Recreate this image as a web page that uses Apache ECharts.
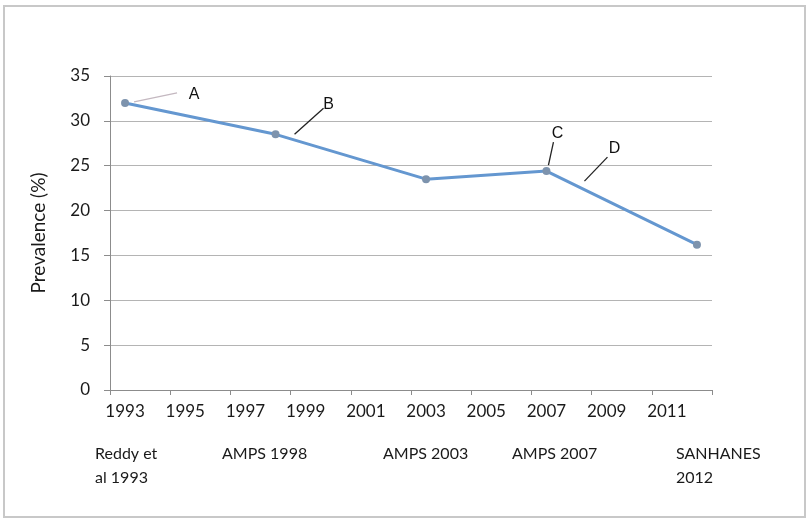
<!DOCTYPE html>
<html>
<head>
<meta charset="utf-8">
<script src="https://cdn.jsdelivr.net/npm/echarts@6/dist/echarts.min.js"></script>
<style>
  html, body { margin: 0; padding: 0; background: #fff; }
  #chart { width: 809px; height: 520px; }
</style>
</head>
<body>
<div id="chart"></div>
<script>
// Years on the category axis
const years = [];
for (let y = 1993; y <= 2012; y++) years.push(String(y));

// Survey prevalence values (%)
const surveyYears = ['1993', '1998', '2003', '2007', '2012'];
const prevalence = [32.0, 28.5, 23.5, 24.4, 16.2];

// Survey names shown beneath the axis
const surveyNames = ['Reddy et\nal 1993', 'AMPS 1998', 'AMPS 2003', 'AMPS 2007', 'SANHANES\n2012'];
const surveyNameLeft = [95, 222, 383, 512, 676];

// Callout letters
const calloutLetters = ['A', 'B', 'C', 'D'];

const yTicks = { min: 0, max: 35, interval: 5 };

const seriesData = years.map(y => {
  const i = surveyYears.indexOf(y);
  return i >= 0 ? prevalence[i] : null;
});

const chart = echarts.init(document.getElementById('chart'));

const font = 'Lato, "Open Sans", sans-serif';

chart.setOption({
  animation: false,
  backgroundColor: '#fff',
  grid: { left: 110, right: 97, top: 76, bottom: 130, containLabel: false },
  xAxis: {
    type: 'category',
    data: years,
    boundaryGap: true,
    axisLine: { lineStyle: { color: '#8c8c8c', width: 1 } },
    axisTick: { show: true, interval: idx => idx % 2 === 0, length: 5, lineStyle: { color: '#8c8c8c' } },
    axisLabel: { interval: 1, margin: 13, color: '#1a1a1a', fontSize: 17, fontFamily: font },
    splitLine: { show: false }
  },
  yAxis: {
    type: 'value',
    min: yTicks.min, max: yTicks.max, interval: yTicks.interval,
    name: 'Prevalence (%)',
    nameLocation: 'middle',
    nameGap: 62,
    nameRotate: 90,
    nameTextStyle: { color: '#1a1a1a', fontSize: 19, fontFamily: font },
    axisLine: { show: true, lineStyle: { color: '#8c8c8c' } },
    axisTick: { show: true, length: 6, lineStyle: { color: '#8c8c8c' } },
    axisLabel: { margin: 20, color: '#1a1a1a', fontSize: 17, fontFamily: font },
    splitLine: { lineStyle: { color: '#b4b4b4', width: 1 } }
  },
  series: [{
    type: 'line',
    data: seriesData,
    connectNulls: true,
    symbol: 'circle',
    symbolSize: 8,
    itemStyle: { color: '#7d93ad' },
    lineStyle: { color: '#6497d0', width: 3 },
    z: 3
  }]
});

// Callout leader lines and letters, anchored to the survey points
const calloutDefs = [
  { anchor: 0, from: [9, -1], to: [52, -10], text: [69, -8], color: '#c4b8c0' },
  { anchor: 1, from: [19, 0], to: [48, -26], text: [53, -30], color: '#222' },
  { anchor: 3, from: [2, -6], to: [7, -29], text: [11, -38], color: '#222' },
  { anchor: 3, from: [38, 10], to: [61, -14], text: [68, -23], color: '#222' }
];

const graphics = [];
calloutDefs.forEach((c, k) => {
  const p = chart.convertToPixel({ seriesIndex: 0 }, [surveyYears[c.anchor], prevalence[c.anchor]]);
  graphics.push({
    type: 'line',
    shape: { x1: p[0] + c.from[0], y1: p[1] + c.from[1], x2: p[0] + c.to[0], y2: p[1] + c.to[1] },
    style: { stroke: c.color, lineWidth: 1.3 },
    z: 10
  });
  graphics.push({
    type: 'text',
    x: p[0] + c.text[0], y: p[1] + c.text[1],
    style: { text: calloutLetters[k], fill: '#111', font: '16px "Liberation Sans", Arial, sans-serif', textAlign: 'center', textVerticalAlign: 'middle' },
    z: 10
  });
});

surveyNames.forEach((name, i) => {
  graphics.push({
    type: 'text',
    left: surveyNameLeft[i], top: 442,
    style: { text: name, fill: '#1a1a1a', font: '16px ' + font, lineHeight: 24 },
    z: 10
  });
});

graphics.push({
  type: 'rect',
  shape: { x: 4, y: 6, width: 801, height: 511 },
  style: { fill: 'none', stroke: '#c8c8c8', lineWidth: 2 },
  z: 0
});

chart.setOption({ graphic: graphics });
</script>
</body>
</html>
